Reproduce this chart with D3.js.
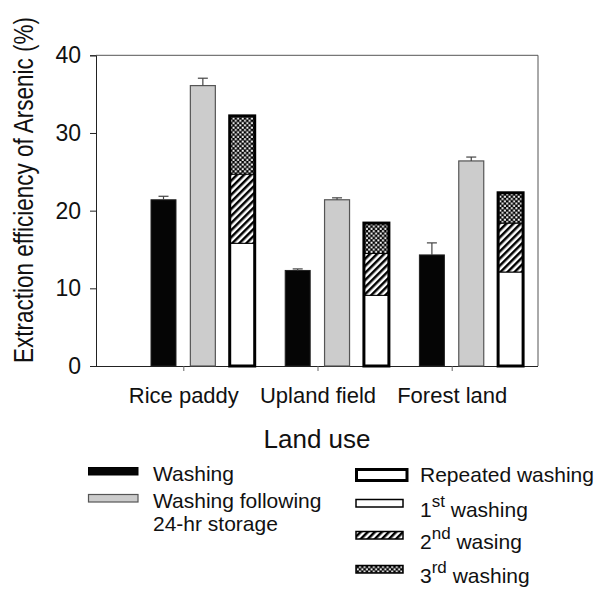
<!DOCTYPE html>
<html><head><meta charset="utf-8">
<script src="https://cdn.jsdelivr.net/npm/d3@7"></script>
<style>body{margin:0;background:#fff}text{font-family:Arial,"Liberation Sans",sans-serif;fill:#111}</style>
</head><body><svg id="c" width="610" height="590"></svg>
<script>
const categories = ["Rice paddy", "Upland field", "Forest land"];
const washing = [21.4, 12.3, 14.3];
const washingErr = [0.45, 0.2, 1.55];
const storage = [36.1, 21.4, 26.4];
const storageErr = [0.95, 0.25, 0.5];
const first = [15.8, 9.1, 12.1];
const second = [8.9, 5.4, 6.3];
const third = [7.5, 3.9, 3.9];
const yTicks = [0, 10, 20, 30, 40];

const svg = d3.select("#c");
const L = 96, R = 538, T = 55.3, B = 366;
const y = d3.scaleLinear().domain([0, 40]).range([B, T]);
const x = d3.scalePoint().domain(categories).range([183.3, 451.7]);
const sub = d3.scaleBand().domain(["w", "s", "r"]).range([-32.3, 71.4]).paddingInner(0.365).paddingOuter(0);
const bw = sub.bandwidth();

const defs = svg.append("defs");
const hatch = defs.append("pattern").attr("id", "hatch").attr("patternUnits", "userSpaceOnUse")
  .attr("width", 5).attr("height", 5).attr("patternTransform", "rotate(45)");
hatch.append("rect").attr("width", 5).attr("height", 5).attr("fill", "#fff");
hatch.append("rect").attr("width", 2.5).attr("height", 5).attr("fill", "#000");
const dots = defs.append("pattern").attr("id", "dots").attr("patternUnits", "userSpaceOnUse")
  .attr("width", 4.6).attr("height", 4.6);
dots.append("rect").attr("width", 4.6).attr("height", 4.6).attr("fill", "#000");
dots.append("rect").attr("x", 0.2).attr("y", 0.2).attr("width", 2).attr("height", 2).attr("fill", "#fff");
dots.append("rect").attr("x", 2.5).attr("y", 2.5).attr("width", 2).attr("height", 2).attr("fill", "#fff");

// frame
svg.append("line").attr("x1", L).attr("x2", R).attr("y1", T).attr("y2", T).attr("stroke", "#555");
svg.append("line").attr("x1", R).attr("x2", R).attr("y1", T).attr("y2", B).attr("stroke", "#555");

// y axis
const ya = svg.append("g").attr("transform", `translate(${L},0)`)
  .call(d3.axisLeft(y).tickValues(yTicks).tickSize(6).tickPadding(9));
ya.select(".domain").attr("stroke", "#222");
ya.selectAll(".tick line").attr("stroke", "#222");
ya.selectAll("text").attr("font-size", 23).attr("font-family", "Arial, 'Liberation Sans'").attr("fill", "#111");

// x axis
const xa = svg.append("g").attr("transform", `translate(0,${B})`)
  .call(d3.axisBottom(x).tickSize(5).tickPadding(16));
xa.select(".domain").attr("d", `M${L},0.5H${R}`).attr("stroke", "#222");
xa.selectAll(".tick line").attr("stroke", "#666");
xa.selectAll("text").attr("font-size", 22).attr("font-family", "Arial, 'Liberation Sans'").attr("fill", "#111");

const g = svg.append("g");
// washing
g.selectAll(".wb").data(categories).join("rect")
  .attr("x", (d) => x(d) + sub("w")).attr("width", bw)
  .attr("y", (d, i) => y(washing[i])).attr("height", (d, i) => y(0) - y(washing[i]))
  .attr("fill", "#050505").attr("stroke", "#222").attr("stroke-width", 1);
// storage
g.selectAll(".sb").data(categories).join("rect")
  .attr("x", (d) => x(d) + sub("s")).attr("width", bw)
  .attr("y", (d, i) => y(storage[i])).attr("height", (d, i) => y(0) - y(storage[i]))
  .attr("fill", "#cccccc").attr("stroke", "#555").attr("stroke-width", 1.2);

// error bars
function errBars(vals, errs, key) {
  categories.forEach((c, i) => {
    const cx = x(c) + sub(key) + bw / 2;
    g.append("line").attr("x1", cx).attr("x2", cx).attr("y1", y(vals[i])).attr("y2", y(vals[i] + errs[i]))
      .attr("stroke", "#444").attr("stroke-width", 1.2);
    g.append("line").attr("x1", cx - 5).attr("x2", cx + 5).attr("y1", y(vals[i] + errs[i])).attr("y2", y(vals[i] + errs[i]))
      .attr("stroke", "#444").attr("stroke-width", 1.2);
  });
}
errBars(washing, washingErr, "w");
errBars(storage, storageErr, "s");

// stacked
const fills = ["#fff", "url(#hatch)", "url(#dots)"];
categories.forEach((c, i) => {
  const parts = [first[i], second[i], third[i]];
  let base = 0;
  const bx = x(c) + sub("r");
  parts.forEach((v, k) => {
    g.append("rect").attr("x", bx).attr("width", bw)
      .attr("y", y(base + v)).attr("height", y(base) - y(base + v))
      .attr("fill", fills[k]).attr("stroke", "#000").attr("stroke-width", 1);
    base += v;
  });
  g.append("rect").attr("x", bx).attr("width", bw).attr("y", y(base)).attr("height", y(0) - y(base))
    .attr("fill", "none").attr("stroke", "#000").attr("stroke-width", 3);
});

// titles
svg.append("text").attr("transform", `translate(33,190) rotate(-90) scale(1,1.25)`)
  .attr("text-anchor", "middle").attr("font-size", 22.5).text("Extraction efficiency of Arsenic (%)");
svg.append("text").attr("x", 317).attr("y", 448).attr("text-anchor", "middle").attr("font-size", 26).text("Land use");

// legend
const lg = svg.append("g").attr("font-size", 21);
lg.append("rect").attr("x", 88.5).attr("y", 467.5).attr("width", 49.5).attr("height", 7.5).attr("fill", "#050505").attr("stroke", "#000");
lg.append("text").attr("x", 153).attr("y", 481).text("Washing");
lg.append("rect").attr("x", 88.5).attr("y", 494.5).attr("width", 49.5).attr("height", 7.5).attr("fill", "#cccccc").attr("stroke", "#555").attr("stroke-width", 1.2);
lg.append("text").attr("x", 153).attr("y", 508).text("Washing following");
lg.append("text").attr("x", 153).attr("y", 531).text("24-hr storage");

lg.append("rect").attr("x", 356.5).attr("y", 469.5).attr("width", 50.5).attr("height", 11).attr("fill", "#fff").attr("stroke", "#000").attr("stroke-width", 3);
lg.append("text").attr("x", 420).attr("y", 482).text("Repeated washing");
const sw = [["#fff", 499.5, "1", "st", " washing"], ["url(#hatch)", 531.5, "2", "nd", " wasing"], ["url(#dots)", 565.5, "3", "rd", " washing"]];
sw.forEach(([f, yy, n, sup, rest]) => {
  lg.append("rect").attr("x", 356).attr("y", yy).attr("width", 47).attr("height", 7.5).attr("fill", f).attr("stroke", "#000").attr("stroke-width", 1.5);
  const t = lg.append("text").attr("x", 420).attr("y", yy + 17);
  t.append("tspan").text(n);
  t.append("tspan").attr("dy", -10).attr("font-size", 17).text(sup);
  t.append("tspan").attr("dy", 10).text(rest);
});
</script></body></html>
